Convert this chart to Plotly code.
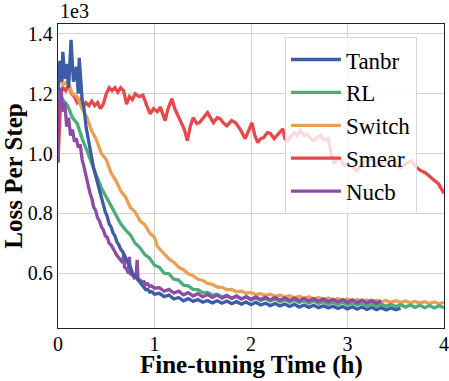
import plotly.graph_objects as go

# loss values are in units of 1e3, time in hours
tanbr_t = [0.00, 0.02, 0.04, 0.05, 0.07, 0.09, 0.11, 0.135, 0.16, 0.19, 0.21, 0.22, 0.25, 0.27, 0.29,
           0.31, 0.33, 0.35, 0.37, 0.39, 0.41, 0.43, 0.45, 0.47, 0.49, 0.51, 0.53, 0.55, 0.57, 0.59,
           0.61, 0.63, 0.65, 0.67, 0.69, 0.71, 0.73, 0.75, 0.77, 0.79, 0.81, 0.83, 0.85, 0.87, 0.89,
           0.91, 0.93, 0.95, 0.97, 1.00, 1.05, 1.10, 1.15, 1.20, 1.25, 1.30, 1.35, 1.40, 1.45, 1.50,
           1.55, 1.60, 1.65, 1.70, 1.75, 1.80, 1.85, 1.90, 1.95, 2.00, 2.05, 2.10, 2.15, 2.20, 2.25,
           2.30, 2.35, 2.40, 2.45, 2.50, 2.55, 2.60, 2.65, 2.70, 2.75, 2.80, 2.85, 2.90, 2.95, 3.00,
           3.05, 3.10, 3.15, 3.20, 3.25, 3.30, 3.35, 3.40, 3.45, 3.50, 3.55]
tanbr_loss = [1.21, 1.31, 1.24, 1.34, 1.25, 1.30, 1.22, 1.38, 1.24, 1.29, 1.20, 1.32, 1.18, 1.15, 1.09,
              1.05, 1.01, 0.985, 0.95, 0.925, 0.895, 0.875, 0.845, 0.83, 0.805, 0.79, 0.765, 0.755, 0.735, 0.725,
              0.705, 0.695, 0.68, 0.672, 0.655, 0.645, 0.63, 0.62, 0.602, 0.594, 0.585, 0.574, 0.568, 0.558, 0.553,
              0.545, 0.546, 0.537, 0.539, 0.530, 0.533, 0.522, 0.527, 0.514, 0.519, 0.508, 0.515, 0.506, 0.512, 0.503,
              0.509, 0.501, 0.508, 0.500, 0.507, 0.498, 0.505, 0.497, 0.504, 0.495, 0.503, 0.494, 0.500, 0.492, 0.499,
              0.491, 0.497, 0.489, 0.496, 0.487, 0.494, 0.486, 0.493, 0.485, 0.491, 0.484, 0.490, 0.482, 0.489, 0.481,
              0.488, 0.480, 0.487, 0.479, 0.486, 0.478, 0.485, 0.477, 0.484, 0.478, 0.483]

nucb_t = [0.00, 0.01, 0.03, 0.05, 0.07, 0.09, 0.11, 0.13, 0.15, 0.17, 0.19, 0.21, 0.23, 0.25, 0.27,
          0.29, 0.31, 0.33, 0.35, 0.37, 0.39, 0.41, 0.43, 0.45, 0.47, 0.49, 0.51, 0.53, 0.55, 0.57,
          0.59, 0.61, 0.63, 0.65, 0.67, 0.68, 0.69, 0.71, 0.73, 0.74, 0.75, 0.77, 0.79, 0.81, 0.82,
          0.83, 0.85, 0.87, 0.89, 0.91, 0.93, 0.95, 0.97, 1.00, 1.05, 1.10, 1.15, 1.20, 1.25, 1.30,
          1.35, 1.40, 1.45, 1.50, 1.55, 1.60, 1.65, 1.70, 1.75, 1.80, 1.85, 1.90, 1.95, 2.00, 2.05,
          2.10, 2.15, 2.20, 2.25, 2.30, 2.35, 2.40, 2.45, 2.50, 2.55, 2.60, 2.65, 2.70, 2.75, 2.80,
          2.85, 2.90, 2.95, 3.00, 3.05, 3.10, 3.15, 3.20, 3.25, 3.30, 3.35]
nucb_loss = [0.97, 1.19, 1.22, 1.14, 1.17, 1.09, 1.12, 1.06, 1.08, 1.04, 1.05, 1.02, 1.03, 0.98, 0.955,
             0.925, 0.905, 0.87, 0.85, 0.82, 0.81, 0.785, 0.775, 0.755, 0.745, 0.725, 0.72, 0.70, 0.695, 0.68,
             0.672, 0.66, 0.652, 0.64, 0.635, 0.665, 0.62, 0.615, 0.60, 0.655, 0.598, 0.595, 0.585, 0.59, 0.645,
             0.58, 0.578, 0.57, 0.572, 0.562, 0.565, 0.556, 0.558, 0.55, 0.552, 0.540, 0.546, 0.534, 0.540, 0.528,
             0.535, 0.524, 0.532, 0.521, 0.529, 0.519, 0.527, 0.517, 0.525, 0.516, 0.524, 0.514, 0.522, 0.513, 0.521,
             0.512, 0.520, 0.511, 0.519, 0.510, 0.518, 0.509, 0.517, 0.508, 0.516, 0.507, 0.515, 0.506, 0.514, 0.505,
             0.513, 0.504, 0.512, 0.503, 0.511, 0.502, 0.510, 0.501, 0.509, 0.500, 0.508]

rl_t = [0.00, 0.05, 0.10, 0.15, 0.20, 0.25, 0.30, 0.35, 0.40, 0.45, 0.50, 0.55, 0.60, 0.65, 0.70,
        0.75, 0.80, 0.85, 0.90, 0.95, 1.00, 1.05, 1.10, 1.15, 1.20, 1.25, 1.30, 1.35, 1.40, 1.45,
        1.50, 1.55, 1.60, 1.65, 1.70, 1.75, 1.80, 1.85, 1.90, 1.95, 2.00, 2.05, 2.10, 2.15, 2.20,
        2.25, 2.30, 2.35, 2.40, 2.45, 2.50, 2.55, 2.60, 2.65, 2.70, 2.75, 2.80, 2.85, 2.90, 2.95,
        3.00, 3.05, 3.10, 3.15, 3.20, 3.25, 3.30, 3.35, 3.40, 3.45, 3.50, 3.55, 3.60, 3.65, 3.70,
        3.75, 3.80, 3.85, 3.90, 3.95, 4.00]
rl_loss = [1.21, 1.18, 1.16, 1.12, 1.10, 1.05, 1.01, 0.965, 0.925, 0.885, 0.855, 0.82, 0.795, 0.765, 0.745,
           0.728, 0.70, 0.685, 0.662, 0.65, 0.627, 0.62, 0.60, 0.598, 0.58, 0.577, 0.56, 0.558, 0.546, 0.545,
           0.535, 0.536, 0.527, 0.530, 0.521, 0.526, 0.517, 0.523, 0.514, 0.520, 0.511, 0.517, 0.509, 0.515, 0.507,
           0.513, 0.505, 0.511, 0.503, 0.510, 0.502, 0.508, 0.500, 0.507, 0.499, 0.505, 0.497, 0.504, 0.496, 0.503,
           0.495, 0.501, 0.494, 0.500, 0.492, 0.499, 0.491, 0.497, 0.490, 0.496, 0.489, 0.495, 0.487, 0.494, 0.486,
           0.493, 0.485, 0.492, 0.484, 0.491, 0.485]

switch_t = [0.00, 0.05, 0.10, 0.15, 0.20, 0.25, 0.30, 0.35, 0.40, 0.45, 0.50, 0.55, 0.60, 0.65, 0.70,
            0.75, 0.80, 0.85, 0.90, 0.95, 1.00, 1.03, 1.05, 1.10, 1.15, 1.20, 1.25, 1.30, 1.35, 1.40,
            1.45, 1.50, 1.55, 1.60, 1.65, 1.70, 1.75, 1.80, 1.85, 1.90, 1.95, 2.00, 2.05, 2.10, 2.15,
            2.20, 2.25, 2.30, 2.35, 2.40, 2.45, 2.50, 2.55, 2.60, 2.65, 2.70, 2.75, 2.80, 2.85, 2.90,
            2.95, 3.00, 3.05, 3.10, 3.15, 3.20, 3.25, 3.30, 3.35, 3.40, 3.45, 3.50, 3.55, 3.60, 3.65,
            3.70, 3.75, 3.80, 3.85, 3.90, 3.95, 4.00]
switch_loss = [1.26, 1.23, 1.24, 1.20, 1.19, 1.15, 1.12, 1.075, 1.045, 1.00, 0.98, 0.935, 0.91, 0.875, 0.855,
               0.82, 0.805, 0.775, 0.762, 0.735, 0.72, 0.69, 0.682, 0.665, 0.648, 0.637, 0.62, 0.612, 0.598, 0.592,
               0.58, 0.576, 0.566, 0.563, 0.554, 0.553, 0.545, 0.546, 0.538, 0.540, 0.533, 0.536, 0.529, 0.532, 0.526,
               0.530, 0.523, 0.527, 0.520, 0.525, 0.518, 0.523, 0.516, 0.521, 0.514, 0.519, 0.512, 0.517, 0.510, 0.515,
               0.509, 0.514, 0.507, 0.512, 0.506, 0.511, 0.505, 0.510, 0.504, 0.509, 0.503, 0.508, 0.502, 0.507, 0.501,
               0.506, 0.500, 0.505, 0.499, 0.504, 0.498, 0.503]

smear_t = [0.00, 0.01, 0.02, 0.03, 0.05, 0.08, 0.11, 0.14, 0.17, 0.20, 0.23, 0.26, 0.29, 0.32, 0.35,
           0.38, 0.41, 0.44, 0.47, 0.50, 0.53, 0.56, 0.59, 0.62, 0.65, 0.68, 0.71, 0.74, 0.77, 0.80,
           0.84, 0.88, 0.92, 0.955, 0.99, 1.03, 1.06, 1.09, 1.11, 1.14, 1.18, 1.21, 1.25, 1.28, 1.31,
           1.34, 1.37, 1.40, 1.44, 1.47, 1.51, 1.55, 1.58, 1.61, 1.65, 1.68, 1.72, 1.75, 1.80, 1.84,
           1.89, 1.94, 1.98, 2.01, 2.04, 2.07, 2.10, 2.13, 2.17, 2.20, 2.24, 2.27, 2.30, 2.33, 2.35,
           2.38, 2.42, 2.45, 2.48, 2.51, 2.55, 2.58, 2.62, 2.65, 2.69, 2.72, 2.76, 2.80, 2.83, 2.86,
           2.90, 2.93, 2.97, 3.00, 3.05, 3.10, 3.14, 3.17, 3.21, 3.24, 3.28, 3.33, 3.37, 3.42, 3.46,
           3.49, 3.52, 3.55, 3.60, 3.66, 3.71, 3.76, 3.81, 3.86, 3.90, 3.94, 3.97, 4.00]
smear_loss = [0.97, 1.05, 1.14, 1.20, 1.22, 1.21, 1.23, 1.20, 1.19, 1.17, 1.18, 1.155, 1.17, 1.16, 1.175,
              1.16, 1.17, 1.15, 1.165, 1.20, 1.22, 1.21, 1.22, 1.205, 1.22, 1.21, 1.165, 1.19, 1.18, 1.20,
              1.19, 1.195, 1.16, 1.133, 1.15, 1.14, 1.155, 1.13, 1.11, 1.15, 1.183, 1.15, 1.12, 1.10, 1.08,
              1.043, 1.09, 1.12, 1.10, 1.105, 1.12, 1.137, 1.12, 1.103, 1.12, 1.117, 1.10, 1.093, 1.11, 1.103,
              1.08, 1.05, 1.08, 1.103, 1.06, 1.037, 1.05, 1.053, 1.07, 1.067, 1.05, 1.06, 1.07, 1.083, 1.05,
              1.043, 1.06, 1.07, 1.06, 1.077, 1.06, 1.065, 1.05, 1.043, 1.055, 1.06, 1.045, 1.05, 1.00, 0.967,
              0.985, 0.98, 0.96, 0.967, 0.955, 0.943, 0.96, 0.97, 0.975, 0.987, 0.97, 0.96, 0.975, 0.97, 0.985,
              0.975, 0.96, 0.953, 0.965, 0.977, 0.955, 0.943, 0.935, 0.92, 0.91, 0.90, 0.885, 0.867]

series = [
    # drawn bottom to top, rank is the legend position
    ('Smear', smear_t, smear_loss, '#e8474b', 4),
    ('Switch', switch_t, switch_loss, '#eb9f55', 3),
    ('RL', rl_t, rl_loss, '#4eab7a', 2),
    ('Nucb', nucb_t, nucb_loss, '#8b4ca6', 5),
    ('Tanbr', tanbr_t, tanbr_loss, '#3c5ca6', 1),
]

SERIF = 'Liberation Serif'


def build_figure():
    fig = go.Figure()
    for name, t, loss, color, rank in series:
        fig.add_trace(go.Scatter(x=t, y=loss, name=name, mode='lines',
                                 line=dict(color=color, width=3.3),
                                 legendrank=rank, legendgroup=name))

    axis_common = dict(showgrid=True, gridcolor='#d2d2d2', gridwidth=1.3,
                       showline=True, linecolor='#222222', linewidth=1.3, mirror=True,
                       ticks='',
                       tickfont=dict(family=SERIF, size=20, color='black'),
                       zeroline=False, automargin=False)
    fig.update_xaxes(range=[0, 4], tickvals=[0, 1, 2, 3, 4], ticklabelstandoff=-2,
                     **axis_common)
    fig.update_yaxes(range=[0.417, 1.433], tickvals=[0.6, 0.8, 1.0, 1.2, 1.4],
                     ticktext=['0.6', '0.8', '1.0', '1.2', '1.4'],
                     title=dict(text='<b>Loss Per Step</b>', standoff=2,
                                font=dict(family=SERIF, size=25, color='black')),
                     **axis_common)

    # x title placed by hand, just under the tick labels
    fig.add_annotation(text='<b>Fine-tuning Time (h)</b>', xref='paper', yref='paper',
                       x=0.5, y=-0.0716, xanchor='center', yanchor='top', showarrow=False,
                       borderpad=0, font=dict(family=SERIF, size=25, color='black'))
    fig.add_annotation(text='1e3', xref='paper', yref='paper', x=0, y=1,
                       xanchor='left', yanchor='bottom', showarrow=False,
                       font=dict(family=SERIF, size=20, color='black'))

    fig.update_layout(
        width=449, height=381,
        margin=dict(l=58, r=5, t=24, b=53),
        paper_bgcolor='white', plot_bgcolor='white',
        showlegend=True,
        legend=dict(x=0.588, y=0.957, xanchor='left', yanchor='top',
                    bgcolor='rgba(255,255,255,0.8)', bordercolor='#d8d8d8', borderwidth=1,
                    font=dict(family=SERIF, size=23, color='black'),
                    itemwidth=50, tracegroupgap=0),
    )
    return fig


fig = build_figure()
# page body has a default margin that would shift the figure
fig.write_html('out.html', config={'displayModeBar': False},
               post_script="document.body.style.margin = '0';")
